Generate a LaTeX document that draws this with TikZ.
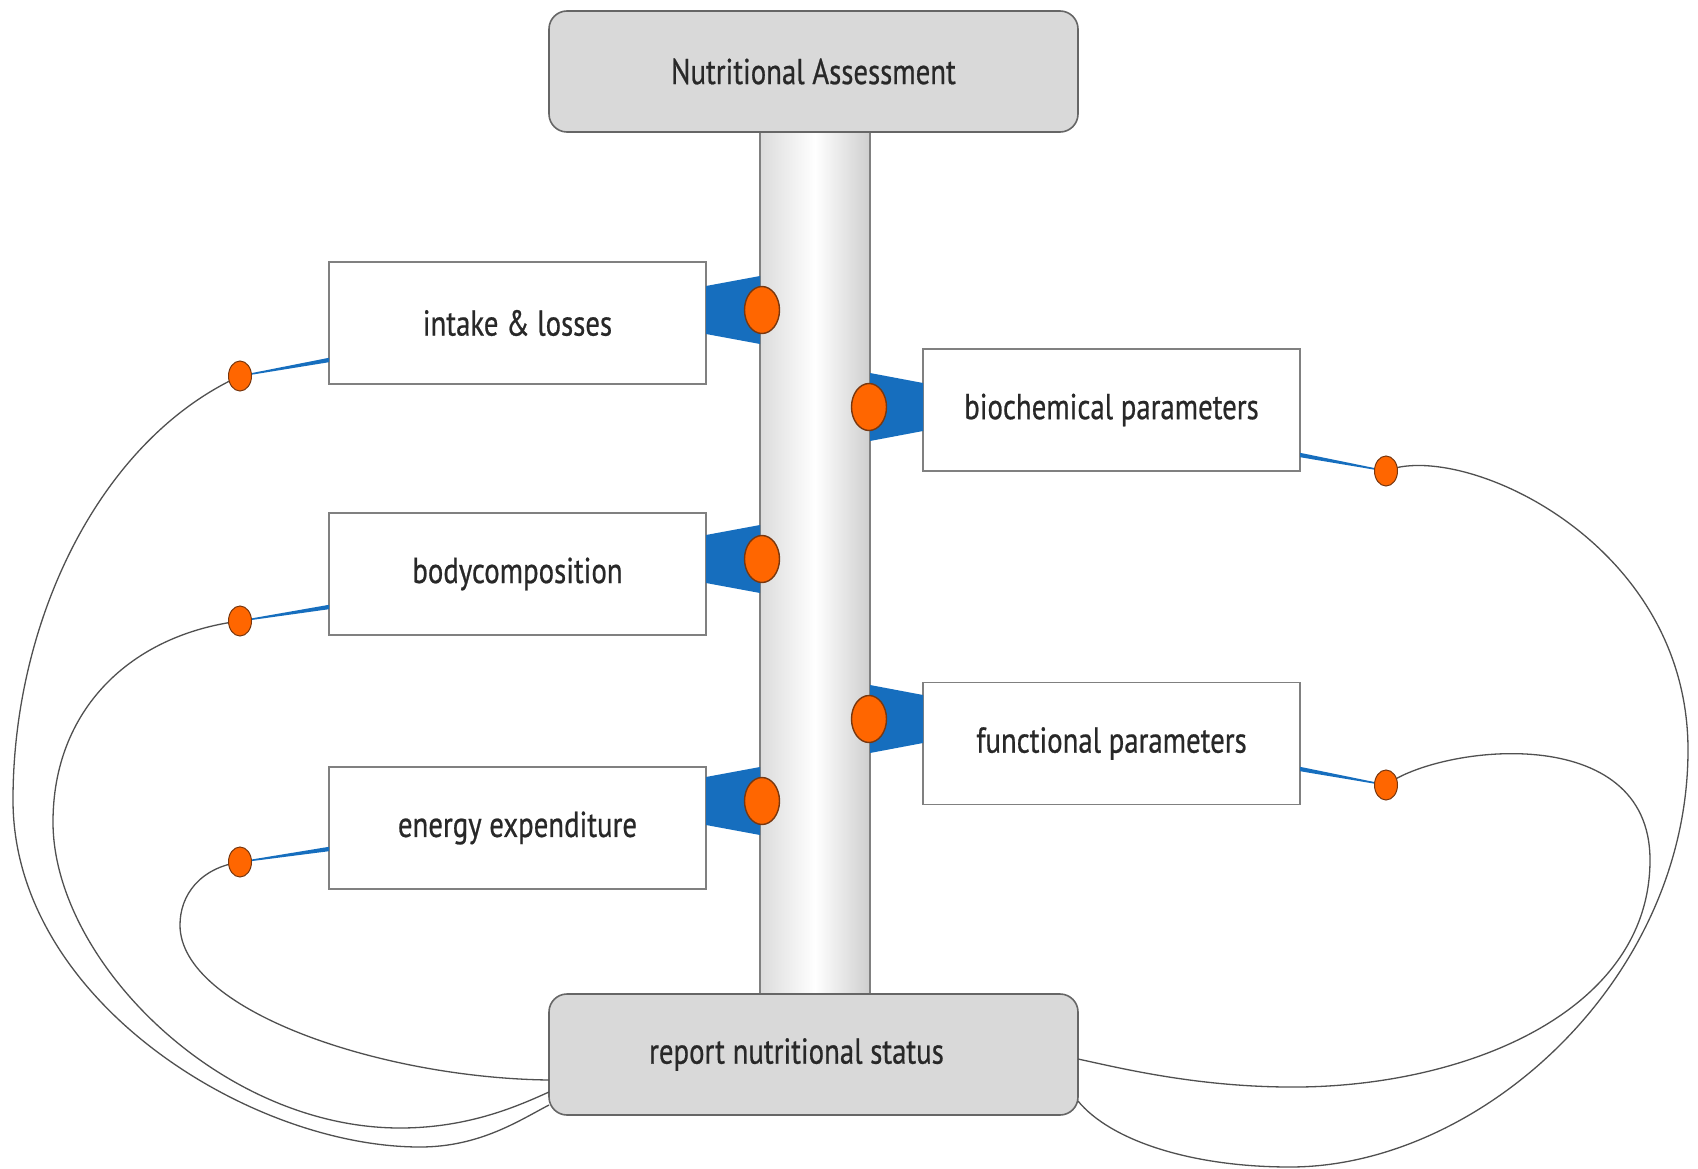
\documentclass[tikz,border=0pt]{standalone}
\usepackage{fontspec}
\setmainfont{PT Sans}[FakeStretch=0.8, FakeBold=0.6]
\usetikzlibrary{shapes.geometric,calc}
\definecolor{bluec}{RGB}{22,110,190}
\definecolor{orangec}{RGB}{255,102,0}
\definecolor{dotline}{RGB}{120,55,15}
\definecolor{edgegray}{RGB}{128,128,128}
\definecolor{txtc}{RGB}{40,40,40}
\definecolor{capfill}{RGB}{217,217,217}
\definecolor{curvec}{RGB}{80,80,80}
\tikzset{
  whitebox/.style={draw=edgegray, line width=1.6pt, fill=white, minimum width=377pt, minimum height=122pt, inner sep=0pt, font=\fontsize{36}{40}\selectfont, text=txtc},
  capbox/.style={draw=edgegray!80!black, line width=1.6pt, fill=capfill, rounded corners=18pt, minimum width=529pt, minimum height=121pt, inner sep=0pt, font=\fontsize{36}{40}\selectfont, text=txtc},
  bigdot/.style={ellipse, draw=dotline, line width=1.4pt, fill=orangec, minimum width=35pt, minimum height=47pt, inner sep=0pt},
  smalldot/.style={ellipse, draw=dotline, line width=1pt, fill=orangec, minimum width=23pt, minimum height=30pt, inner sep=0pt},
  curve/.style={draw=curvec, line width=1.3pt},
  joinfill/.style={fill=bluec, draw=none}
}
\begin{document}
\begin{tikzpicture}[x=1pt,y=-1pt]
\useasboundingbox[fill=white] (0,0) rectangle (1698,1169);

% pillar
\shade[left color=gray!28, right color=gray!38, middle color=white] (760,132) rectangle (870,994);
\draw[edgegray, line width=1.6pt] (760,132) -- (760,994) (870,132) -- (870,994);

% boxes
\node[capbox] (top) at (813.5,71.5) {Nutritional Assessment};
\node[capbox] (report) at (813.5,1054.5) {report nutritional status\hspace*{34pt}};
\node[whitebox] (intake) at (517.5,323) {intake \& losses};
\node[whitebox] (body) at (517.5,574) {bodycomposition};
\node[whitebox] (energy) at (517.5,828) {energy expenditure};
\node[whitebox] (biochem) at (1111.5,410) {biochemical parameters};
\node[whitebox] (func) at (1111.5,743.5) {functional parameters};

% blue joints (box to pillar)
\fill[joinfill] (706,286) -- (760,276) -- (760,344) -- (706,334) -- cycle;
\fill[joinfill] (706,535) -- (760,525) -- (760,593) -- (706,583) -- cycle;
\fill[joinfill] (706,777) -- (760,767) -- (760,835) -- (706,825) -- cycle;
\fill[joinfill] (923,383) -- (870,373) -- (870,441) -- (923,431) -- cycle;
\fill[joinfill] (923,695) -- (870,685) -- (870,753) -- (923,743) -- cycle;

% connection coordinates
\coordinate (iL) at (329,360);
\coordinate (bL) at (329,607);
\coordinate (eL) at (329,849);
\coordinate (cR) at (1300,455);
\coordinate (fR) at (1300,769);
\coordinate (r1) at (549,1105);
\coordinate (r2) at (549,1092);
\coordinate (r3) at (549,1080);
\coordinate (r4) at (1078,1101);
\coordinate (r5) at (1078,1059);
\coordinate (ci) at (240,376);
\coordinate (cb) at (240,621);
\coordinate (ce) at (240,862);
\coordinate (cc) at (1386,471);
\coordinate (cf) at (1386,785);

% grey curves
\draw[curve] (ci) .. controls (100,440) and (13,620) .. (13,800)
  .. controls (13,1000) and (250,1147) .. (420,1147)
  .. controls (480,1147) and (520,1120) .. (r1);
\draw[curve] (cb) .. controls (130,635) and (53,710) .. (53,822)
  .. controls (53,960) and (220,1128) .. (400,1128)
  .. controls (470,1128) and (520,1105) .. (r2);
\draw[curve] (ce) .. controls (200,868) and (180,895) .. (180,925)
  .. controls (180,1010) and (380,1078) .. (r3);
\draw[curve] (cc) .. controls (1460,440) and (1688,540) .. (1688,750)
  .. controls (1688,980) and (1480,1167) .. (1290,1167)
  .. controls (1190,1167) and (1110,1140) .. (r4);
\draw[curve] (cf) .. controls (1440,745) and (1650,720) .. (1650,860)
  .. controls (1650,1010) and (1470,1085) .. (1300,1087)
  .. controls (1200,1088) and (1120,1068) .. (r5);

% tapered blue lines
\fill[bluec] ($(iL)+(0,-2.2)$) -- ($(ci)+(0,-0.6)$) -- ($(ci)+(0,0.6)$) -- ($(iL)+(0,2.2)$) -- cycle;
\fill[bluec] ($(bL)+(0,-2.2)$) -- ($(cb)+(0,-0.6)$) -- ($(cb)+(0,0.6)$) -- ($(bL)+(0,2.2)$) -- cycle;
\fill[bluec] ($(eL)+(0,-2.2)$) -- ($(ce)+(0,-0.6)$) -- ($(ce)+(0,0.6)$) -- ($(eL)+(0,2.2)$) -- cycle;
\fill[bluec] ($(cR)+(0,-2.2)$) -- ($(cc)+(0,-0.6)$) -- ($(cc)+(0,0.6)$) -- ($(cR)+(0,2.2)$) -- cycle;
\fill[bluec] ($(fR)+(0,-2.2)$) -- ($(cf)+(0,-0.6)$) -- ($(cf)+(0,0.6)$) -- ($(fR)+(0,2.2)$) -- cycle;

% small dots
\node[smalldot] (di) at (ci) {};
\node[smalldot] (db) at (cb) {};
\node[smalldot] (de) at (ce) {};
\node[smalldot] (dc) at (cc) {};
\node[smalldot] (df) at (cf) {};

% big dots
\node[bigdot] (bi) at (762,310) {};
\node[bigdot] (bb) at (762,559) {};
\node[bigdot] (be) at (762,801) {};
\node[bigdot] (bc) at (869,407) {};
\node[bigdot] (bf) at (869,719) {};
\end{tikzpicture}
\end{document}
